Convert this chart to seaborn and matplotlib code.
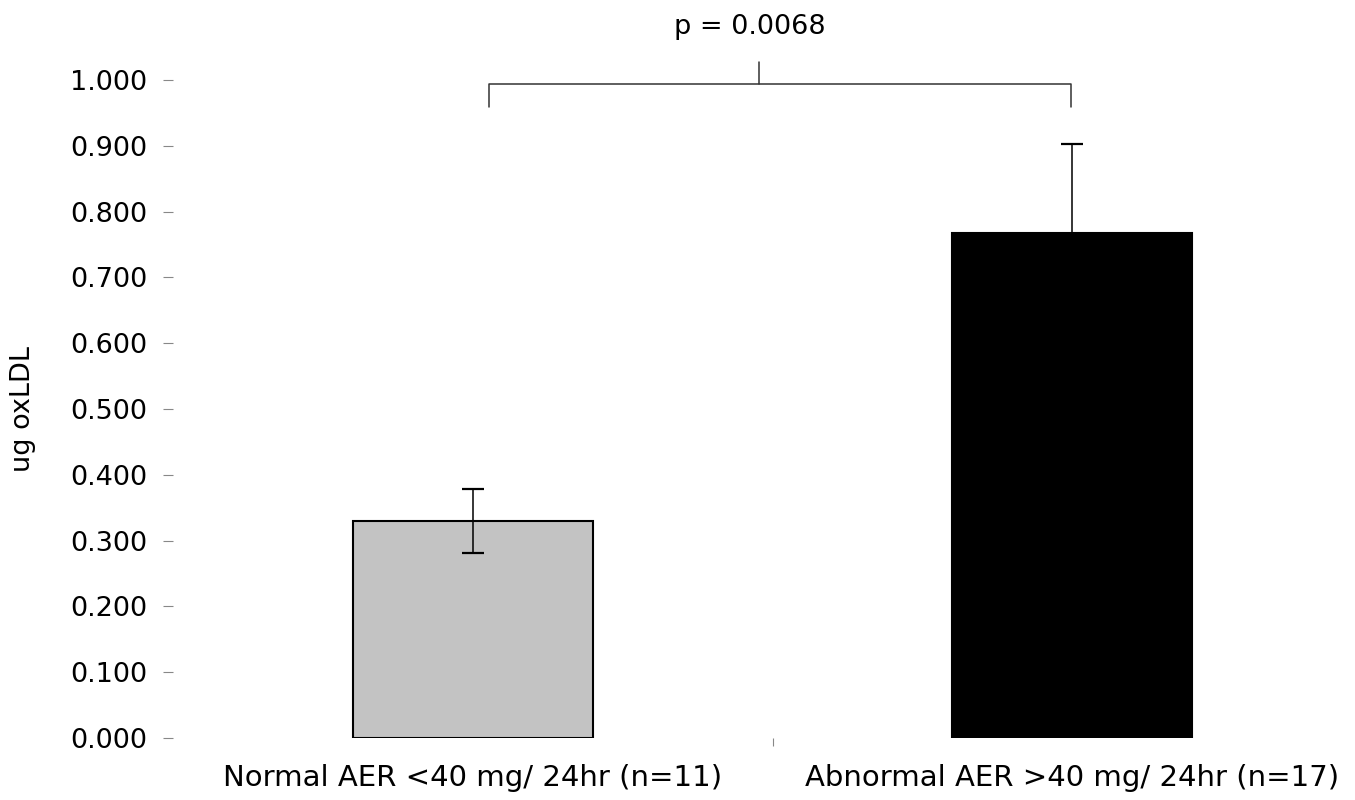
import matplotlib
matplotlib.use('Agg')
import matplotlib.pyplot as plt
import numpy as np
import pandas as pd
import seaborn as sns

groups = ['Normal AER <40 mg/ 24hr (n=11)', 'Abnormal AER >40 mg/ 24hr (n=17)']
means = [0.330, 0.768]
errors = [0.049, 0.135]
bar_colors = ['#c3c3c3', '#000000']
y_ticks = [0.0, 0.1, 0.2, 0.3, 0.4, 0.5, 0.6, 0.7, 0.8, 0.9, 1.0]
p_text = 'p = 0.0068'

sns.set_style('white')
plt.rcParams['font.family'] = ['DejaVu Sans']
plt.rcParams['text.color'] = 'black'
plt.rcParams['axes.labelcolor'] = 'black'
plt.rcParams['xtick.labelcolor'] = 'black'
plt.rcParams['ytick.labelcolor'] = 'black'

df = pd.DataFrame({'group': groups, 'mean': means})

fig = plt.figure(figsize=(13.55, 8), dpi=100)
ax = fig.add_axes([0.128, 0.0775, 0.871, 0.8225])

sns.barplot(data=df, x='group', y='mean', hue='group', palette=bar_colors,
            width=0.4, edgecolor='black', linewidth=1.5, legend=False, ax=ax)
ax.errorbar(range(len(groups)), means, yerr=errors, fmt='none',
            ecolor='black', elinewidth=1.1, capsize=8, capthick=1.6)

ax.set_ylim(0, 1.0)
ax.set_xlim(-0.5, 1.47)
ax.set_yticks(y_ticks)
ax.set_yticklabels([f'{t:.3f}' for t in y_ticks], fontsize=19.5)
ax.set_xticks(range(len(groups)))
ax.set_xticklabels(groups, fontsize=21)
ax.set_xticks([0.5], minor=True)
ax.tick_params(axis='y', length=7, width=0.8, color='#888888', pad=12, left=True)
ax.tick_params(axis='x', which='major', length=0, pad=19)
ax.tick_params(axis='x', which='minor', length=6, width=0.8, color='#888888', bottom=True)
ax.set_xlabel('')
ax.set_ylabel('ug oxLDL', fontsize=19.5, labelpad=24)
sns.despine(ax=ax, left=True, bottom=True)

# significance bracket
bx = [0.027, 0.027, 0.998, 0.998]
by = [0.959, 0.994, 0.994, 0.959]
ax.plot(bx, by, color='#333333', lw=1.1, clip_on=False)
ax.plot([0.478, 0.478], [0.994, 1.028], color='#333333', lw=1.1, clip_on=False)
ax.text(0.462, 1.08, p_text, ha='center', va='center', fontsize=19.5, clip_on=False)

plt.savefig('out.png', dpi=100)
